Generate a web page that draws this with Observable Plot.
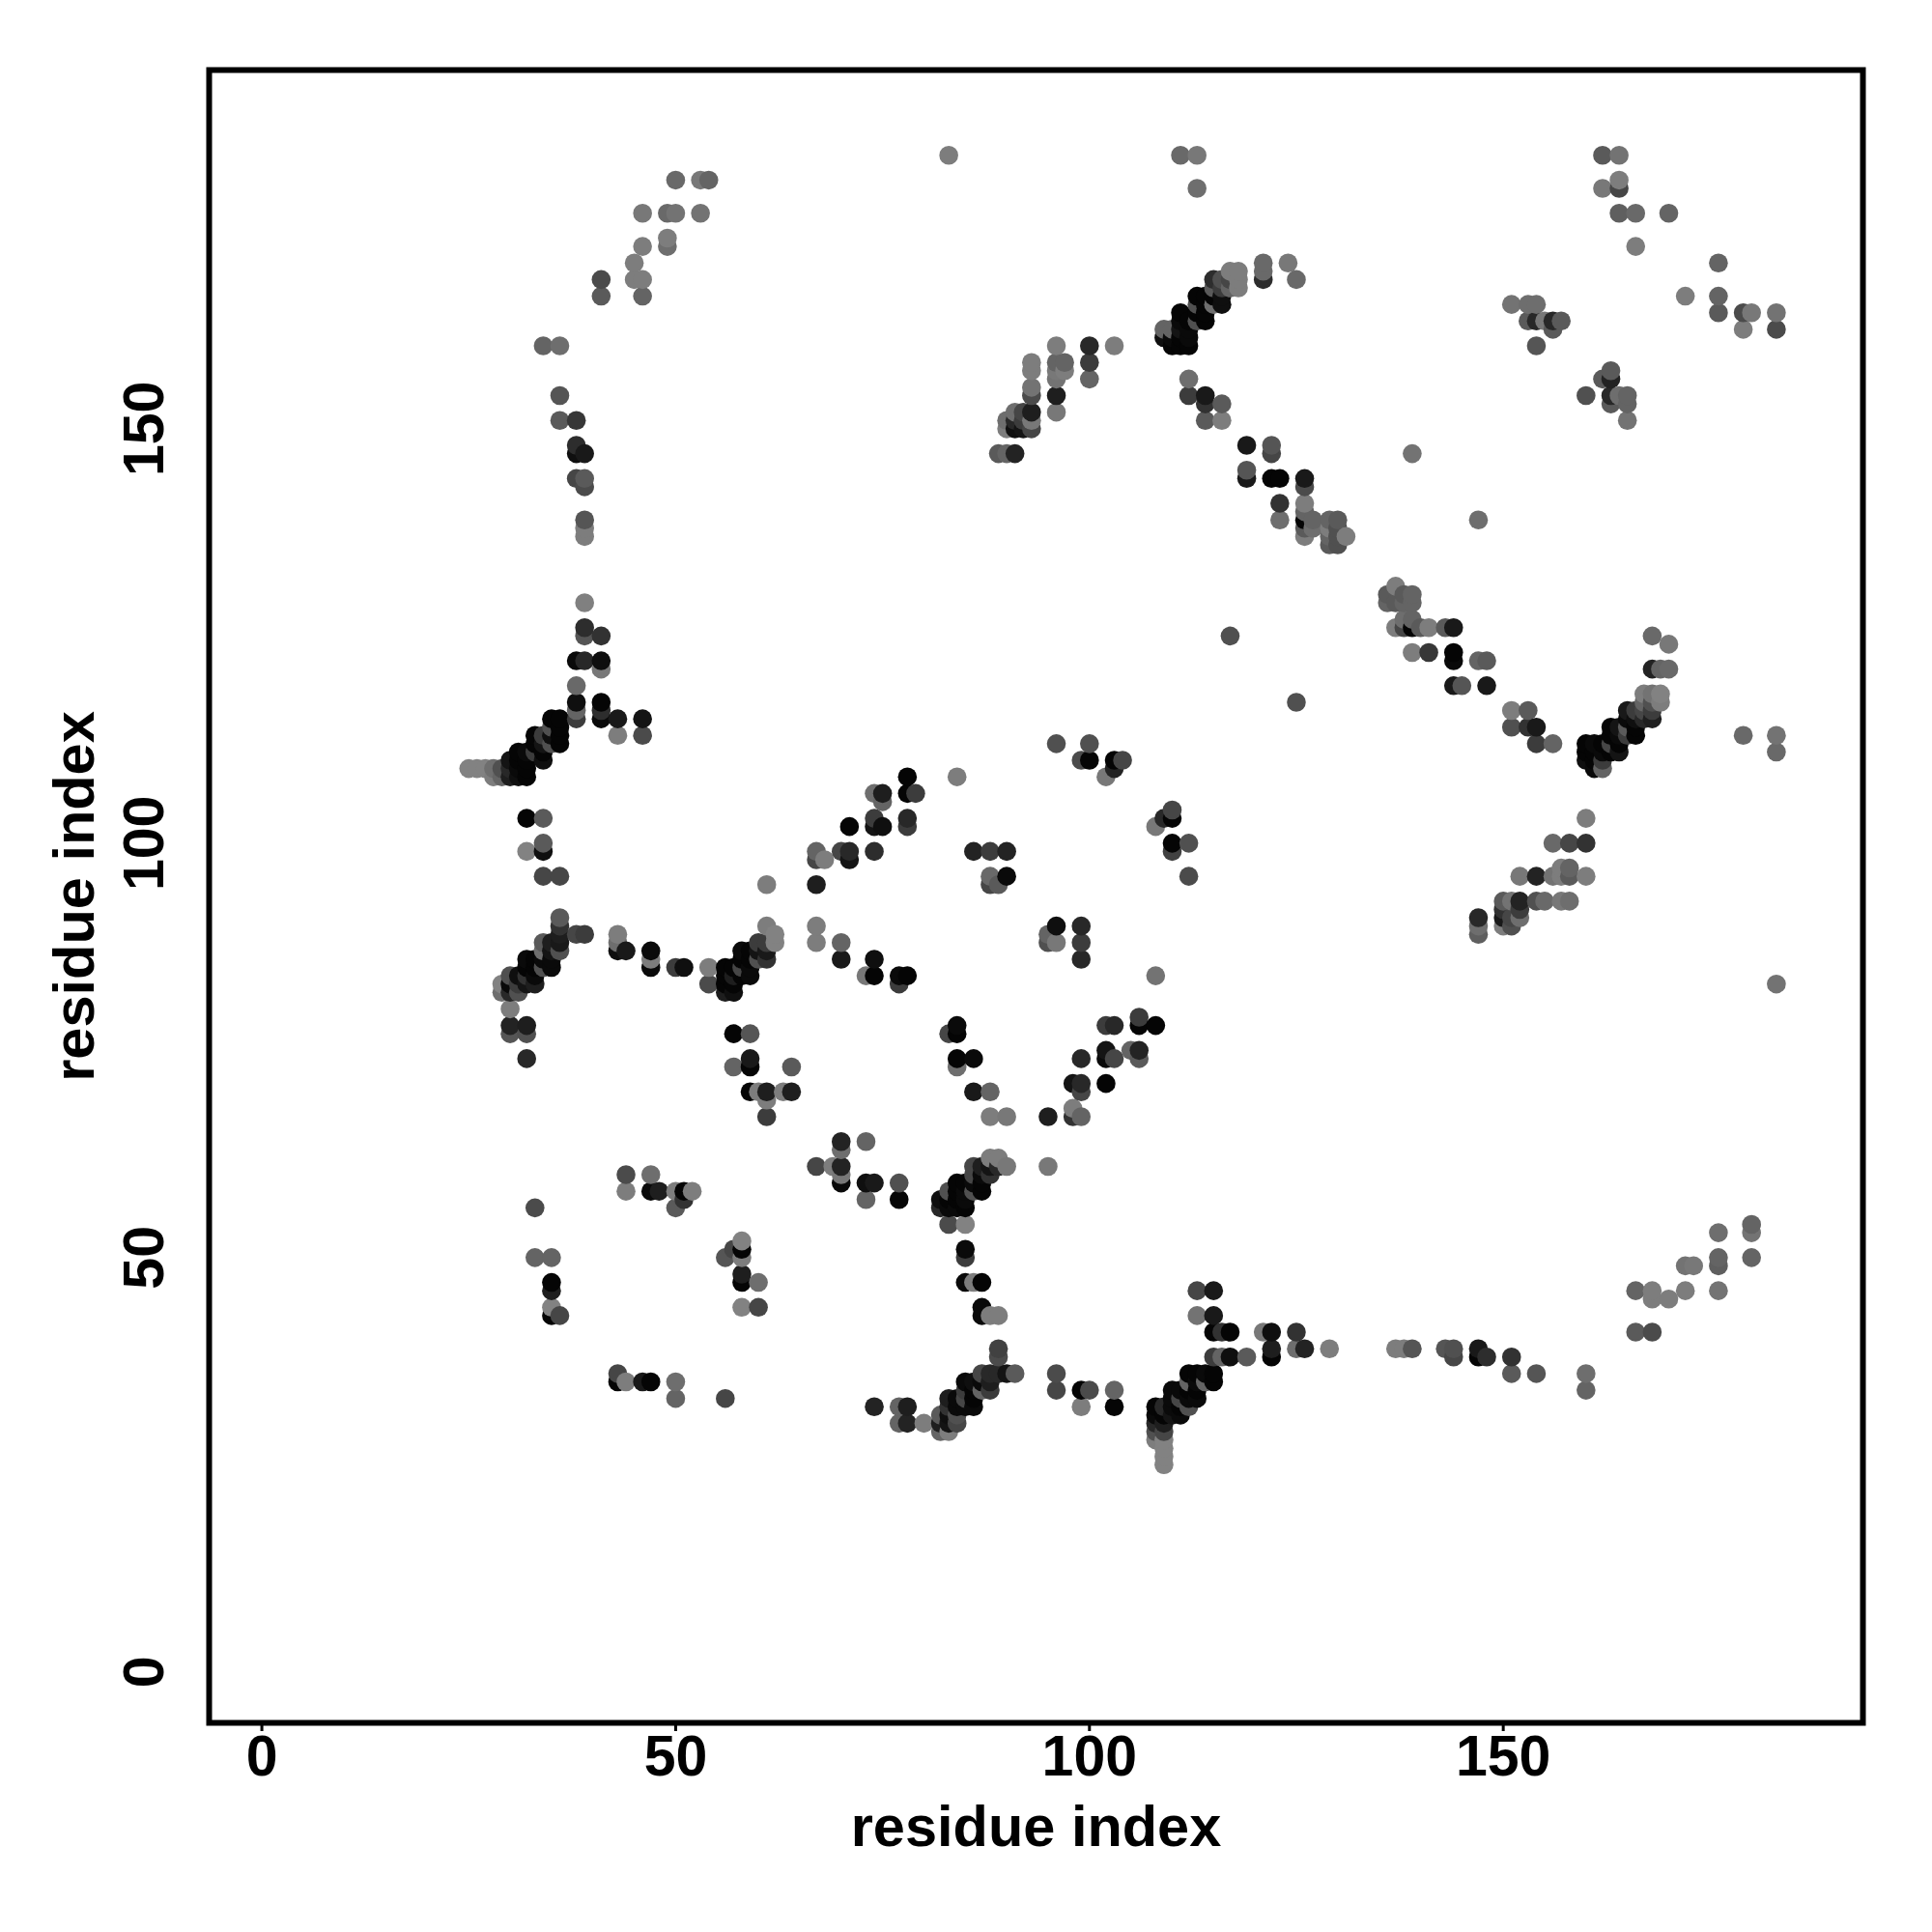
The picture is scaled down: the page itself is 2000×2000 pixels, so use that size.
<!DOCTYPE html>
<html>
<head>
<meta charset="utf-8">
<script src="https://cdn.jsdelivr.net/npm/d3@7"></script>
<script src="https://cdn.jsdelivr.net/npm/@observablehq/plot@0.6"></script>
<style>
html,body{margin:0;padding:0;background:#fff}
svg{display:block}
</style>
</head>
<body>
<div id="chart"></div>
<script>
// Each entry: [residue x, residue y, grey level of the point]
const tickValues = [0, 50, 100, 150];
const axisTitle = "residue index";

const upperLeft = [[50,180,105],[53,180,120],[54,180,100],[46,176,120],[49,176,105],[50,176,115],[53,176,115],
[49,173,125],[49,172,110],[46,172,125],[45,170,125],[45,168,125],[46,168,125],[41,168,75],[41,166,90],[46,166,100],
[34,160,100],[36,160,110],[36,154,85],[36,151,90],[38,151,55],[38,148,45],[38,147,15],[39,147,25],[38,144,70],
[39,144,90],[39,143,75],[39,139,85],[39,138,125],[39,137,125],[39,129,128]];

const leftArm = [[39,126,45],[39,125,85],[41,125,50],[38,122,10],[39,122,40],[41,122,15],[41,121,120],[38,119,105],
[38,117,15],[38,116,100],[38,115,60],[41,117,5],[41,116,45],[41,115,10],[43,115,25],[46,115,20],[43,113,125],[46,113,75],
[25,109,130],[26,109,130],[27,109,130],[28,109,110],[29,109,80],[30,109,40],[28,108,125],[29,108,100],[30,108,30],[31,108,15],[32,108,5],
[31,109,10],[32,109,5],[30,110,20],[31,110,5],[32,110,5],[34,110,15],[31,111,5],[32,111,10],[33,111,60],[34,111,5],
[33,112,5],[34,112,20],[35,112,80],[36,112,5],[33,113,5],[34,113,60],[35,113,15],[36,113,5],[35,114,80],[36,114,5],[35,115,5],[36,115,5],
[32,103,5],[34,103,90],[34,100,90],[34,99,15],[32,99,130],[34,96,70],[36,96,70]];

const leftLower = [[36,91,90],[36,90,50],[36,89,30],[38,89,70],[39,89,60],[34,88,90],[35,88,30],[36,88,25],[36,87,80],[35,87,20],[34,87,110],
[32,86,10],[33,86,5],[34,86,10],[35,86,10],[35,85,10],[34,85,80],[33,85,5],[32,85,5],[30,84,80],[31,84,15],[32,84,50],[33,84,10],
[32,83,20],[33,83,30],[31,83,60],[30,83,10],[29,83,130],[29,82,110],[30,82,40],[31,82,80],[30,80,125],[30,78,35],[30,77,85],[32,78,30],[32,77,80],[32,74,40],
[43,89,125],[43,88,110],[43,87,15],[44,87,25],[47,87,10],[47,86,125],[47,85,10],[50,85,60],[51,85,15],[54,85,125],[54,83,75]];

const midCluster = [[56,85,5],[56,84,5],[56,83,5],[56,82,30],[57,82,15],[57,83,5],[57,84,30],[57,85,5],[58,87,10],[58,86,5],[58,85,70],[58,84,5],[59,84,10],
[59,87,5],[59,86,5],[59,85,10],[60,88,60],[60,87,20],[60,86,80],[61,86,50],[61,87,25],[61,88,60],[61,90,125],[62,89,130],[62,88,130],[61,95,125],
[67,95,30],[67,99,100],[67,98,70],[68,98,125],[70,99,70],[71,99,40],[71,98,20],[71,102,5],[74,99,45],[74,103,60],[74,102,20],[75,102,15],
[74,106,110],[75,106,30],[75,105,100],[78,108,5],[78,106,5],[79,106,60],[78,103,40],[78,102,60],[84,108,125],
[86,99,35],[88,99,60],[90,99,35],[88,96,105],[90,96,10],[88,95,70],[89,95,90]];

const midRight = [[96,112,80],[100,112,80],[99,110,75],[100,110,5],[103,110,5],[104,110,70],[103,109,35],[102,108,120],
[110,104,70],[110,103,5],[109,103,40],[108,102,120],[110,100,5],[112,100,80],[110,99,65],[112,96,75],
[67,90,125],[67,88,125],[70,88,100],[70,86,25],[74,86,15],[74,84,5],[73,84,120],[77,84,10],[78,84,5],[77,83,60],
[96,90,15],[99,90,40],[95,89,100],[96,88,120],[95,88,80],[99,88,60],[99,86,40],[108,84,115],
[106,79,60],[106,78,5],[108,78,5],[102,78,60],[103,78,40],[102,75,20],[102,74,10],[103,74,70],[105,75,100],[106,75,35],[106,74,90],
[99,74,40],[98,71,20],[99,71,40],[99,70,70],[102,71,5],[95,67,30],[98,68,125],[98,67,50],[99,67,100],
[84,78,10],[84,77,5],[83,77,70],[84,74,5],[86,74,10],[84,73,110],[86,70,25],[88,70,100],[88,67,125],[90,67,120],
[70,64,35],[70,63,110],[73,64,100],[67,61,70],[69,61,125],[70,61,35],[70,60,120],[70,59,10],[73,59,15],[74,59,25],[77,59,80],[77,57,5],[73,57,100],[95,61,120]];

const lowerLeft = [[57,77,5],[59,77,85],[57,73,100],[59,74,25],[59,73,5],[64,73,90],[59,70,5],[60,70,125],[61,70,30],[63,70,125],[64,70,30],[61,69,125],[61,67,60],
[44,60,75],[47,60,110],[44,58,125],[47,58,10],[48,58,30],[50,58,125],[51,58,5],[52,58,125],[51,57,50],[50,56,90],[33,56,75],[33,50,100],[35,50,100],
[35,47,5],[35,46,30],[35,44,130],[35,43,5],[36,43,70],[58,52,130],[58,51,5],[57,51,70],[56,50,85],[58,50,125],[58,48,30],[58,47,5],[60,47,110],[58,44,130],[60,44,70],
[43,36,70],[43,35,5],[44,35,125],[46,35,25],[47,35,5],[50,35,110],[50,33,100],[56,33,70],[74,32,35],[77,32,100],[78,32,30],[77,30,100],[78,30,35],[80,30,125]];

const lowerMid = [[83,54,75],[85,54,130],[82,56,40],[83,56,10],[84,56,10],[85,56,5],[82,57,15],[83,57,5],[84,57,5],[85,57,10],[83,58,80],[84,58,5],[85,58,10],[86,58,80],[87,58,5],
[84,59,5],[85,59,5],[86,59,10],[87,59,5],[86,60,70],[87,60,10],[88,60,50],[86,61,70],[87,61,30],[88,61,20],[89,61,40],[90,61,120],[88,62,125],[89,62,125],
[85,51,10],[85,50,60],[85,47,10],[86,47,125],[87,47,5],[87,44,10],[87,43,10],[88,43,125],[89,43,125],[89,39,65],[89,38,75],
[87,36,70],[88,36,40],[89,36,40],[90,36,20],[91,36,90],[85,35,10],[86,35,15],[87,35,10],[88,35,30],[85,34,60],[86,34,5],[87,34,100],[88,34,60],
[83,33,30],[84,33,10],[85,33,70],[86,33,5],[83,32,50],[84,32,10],[85,32,10],[86,32,10],[82,31,90],[83,31,15],[84,31,80],[82,30,30],[83,30,20],[84,30,70],[82,29,100],[83,29,125],
[96,36,75],[96,34,70],[99,34,5],[100,34,75],[99,32,125],[103,34,100],[103,32,5]];

const lowerRight = [[113,46,70],[115,46,25],[113,43,115],[115,43,25],[115,41,5],[116,41,50],[117,41,5],[121,41,120],[122,41,15],[125,41,50],
[115,38,60],[116,38,100],[117,38,15],[119,38,90],[122,39,30],[122,38,5],[125,39,110],[126,39,35],
[112,36,5],[113,36,5],[114,36,10],[115,36,5],[112,35,100],[113,35,10],[114,35,100],[115,35,5],[110,34,10],[111,34,10],[112,34,5],[113,34,5],
[110,33,10],[111,33,70],[112,33,10],[113,33,10],[108,32,5],[109,32,40],[110,32,10],[111,32,5],[112,32,80],[108,31,10],[109,31,5],[110,31,20],[111,31,10],
[108,30,40],[109,30,30],[108,29,80],[109,29,70],[108,28,125],[109,28,130],[109,27,130],[109,26,130],[109,25,130],
[129,39,125],[137,39,125],[138,39,125],[139,39,85],[143,39,85],[144,39,80],[144,38,70],[147,39,25],[147,38,5],[148,38,45],[151,38,50],[151,36,90],[154,36,85],[160,36,110],[160,34,100],
[166,41,90],[168,41,75],[166,46,100],[168,46,125],[168,45,125],[170,45,125],[172,46,125],[172,49,115],[173,49,120],[176,53,110],[176,50,100],[176,49,95],[176,46,115],[180,54,100],[180,53,115],[180,50,100]];

const rightMiddle = [[137,131,125],[136,130,90],[136,129,100],[138,130,90],[139,130,100],[139,129,100],[137,129,90],[138,129,100],[137,126,125],[138,127,110],[139,127,100],[138,126,70],[139,126,5],[140,126,90],[141,126,125],
[143,126,90],[144,126,25],[139,123,125],[141,123,55],[144,123,5],[144,122,10],[147,122,100],[148,122,90],[144,119,25],[145,119,85],[148,119,25],
[151,116,125],[153,116,90],[151,114,80],[153,114,50],[154,114,25],[154,112,60],[156,112,100],[168,125,105],[170,124,120],[168,121,35],[169,121,100],[170,121,105],
[167,118,125],[168,118,115],[169,118,130],[167,117,100],[168,117,80],[169,117,125],[165,116,25],[166,116,60],[167,116,70],[168,116,60],[165,115,10],[166,115,15],[167,115,40],[168,115,30],
[163,114,5],[164,114,20],[165,114,90],[166,114,5],[163,113,5],[164,113,10],[165,113,60],[166,113,5],[160,112,5],[161,112,10],[162,112,5],[163,112,70],[164,112,5],
[160,111,5],[161,111,5],[162,111,10],[163,111,5],[164,111,20],[160,110,15],[161,110,5],[162,110,60],[161,109,10],[162,109,100],[179,113,105],[183,113,115],[183,111,105],
[160,103,125],[156,100,105],[158,100,70],[160,100,50],[152,96,120],[154,96,35],[156,96,115],[157,97,125],[158,97,100],[157,96,125],[158,96,90],[160,96,125],
[150,93,90],[151,93,115],[152,93,35],[154,93,80],[155,93,105],[157,93,120],[158,93,110],[150,92,50],[152,92,60],[150,91,25],[151,91,70],[152,91,110],[150,90,125],[151,90,80],[147,91,40],[147,90,110],[147,89,95],[183,83,115],[125,117,80],[117,125,80]];

const upperRight = [[83,183,125],[111,183,105],[113,183,120],[113,179,110],[162,183,90],[164,183,115],[162,179,120],[164,180,125],[164,179,70],[164,176,95],[166,176,105],[170,176,100],[166,172,125],
[176,170,100],[172,166,125],[176,166,100],[176,164,90],[179,164,75],[180,164,120],[183,164,115],[179,162,125],[183,162,75],[151,165,115],[153,165,110],[154,165,110],
[153,163,90],[154,163,40],[155,163,120],[156,163,40],[157,163,90],[156,162,90],[154,160,85],[163,157,90],[162,156,90],[163,156,35],[160,154,80],[163,154,40],[164,154,110],[165,154,100],[163,153,90],[165,153,100],[165,151,115],[139,147,115],[147,139,110]];

const upperMid = [[89,147,90],[90,147,100],[91,147,35],[90,151,110],[91,152,110],[92,152,70],[93,152,30],[90,150,125],[91,150,15],[92,150,20],[93,150,70],[93,151,120],[91,151,40],[92,151,60],
[93,154,75],[93,155,115],[93,157,125],[93,158,125],[96,160,125],[96,158,100],[97,158,100],[97,157,125],[96,157,120],[96,156,115],[96,154,30],[96,152,120],[100,160,40],[100,158,60],[100,156,100],[103,160,125],
[109,162,100],[109,161,15],[110,162,100],[110,161,10],[110,160,5],[111,160,5],[112,160,5],[111,164,5],[111,163,10],[111,162,20],[111,161,5],[112,161,10],[112,162,10],[112,163,5],
[113,166,5],[113,165,80],[113,164,5],[113,163,80],[114,163,5],[114,164,5],[114,165,5],[114,166,5],[115,168,45],[115,167,90],[115,166,5],[115,165,110],[116,168,80],[116,167,60],[116,166,15],[116,165,15],
[117,169,125],[117,168,70],[117,167,100],[118,169,125],[118,168,125],[118,167,125],[121,170,105],[121,169,105],[121,168,45],[124,170,120],[125,168,105],
[112,156,110],[112,154,60],[114,154,25],[114,153,50],[116,153,90],[114,151,90],[116,151,125],[119,148,25],[122,148,85],[122,147,70],[119,145,85],[119,144,25],[122,144,5],[123,144,5],[126,144,25],[126,143,75],
[123,141,50],[123,139,110],[126,141,125],[126,140,100],[126,139,5],[126,138,90],[126,137,125],[127,139,100],[127,138,110],[129,139,100],[130,139,90],[129,138,125],[130,138,80],[129,137,100],[130,137,80],[129,136,90],[130,136,80],[131,137,125]];

const rows = [upperLeft, leftArm, leftLower, midCluster, midRight, lowerLeft, lowerMid, lowerRight, rightMiddle, upperRight, upperMid]
  .flat().map(([x, y, g]) => ({x, y, fill: `rgb(${g},${g},${g})`}));
// later residues paint over earlier ones, as in the reference
const contacts = d3.sort(rows, d => d.x, d => d.y);

const tickFont = {fontFamily: "Liberation Sans", fontWeight: "bold", fontSize: 59};
const titleFont = {fontFamily: "Liberation Sans", fontWeight: "bold", fontSize: 59.5};
const ink = {stroke: "#000", fill: "#000", color: "#000"};

const chart = Plot.plot({
  width: 2000,
  height: 2000,
  marginLeft: 216,
  marginRight: 72,
  marginTop: 72,
  marginBottom: 217,
  style: {background: "#fff", fontFamily: "Liberation Sans"},
  x: {domain: [-6.37, 193.46]},
  y: {domain: [-6.14, 193.28]},
  color: {type: "identity"},
  marks: [
    Plot.dot(contacts, {x: "x", y: "y", r: 9.8, fill: "fill", stroke: "none"}),
    Plot.frame({stroke: "#000", strokeWidth: 6}),
    Plot.axisX({ticks: tickValues, tickSize: 9, tickPadding: 4, strokeWidth: 3, ...ink, label: null, ...tickFont}),
    Plot.axisX({ticks: [], label: axisTitle, labelAnchor: "center", labelArrow: "none", labelOffset: 127, ...ink, ...titleFont}),
    Plot.axisY({ticks: tickValues, tickSize: 10, tickPadding: 56, strokeWidth: 3, ...ink,
      rotate: -90, textAnchor: "middle", label: null, ...tickFont}),
    Plot.axisY({ticks: [], label: axisTitle, labelAnchor: "center", labelArrow: "none", labelOffset: 162, ...ink, ...titleFont})
  ]
});
document.getElementById("chart").appendChild(chart);
</script>
</body>
</html>
